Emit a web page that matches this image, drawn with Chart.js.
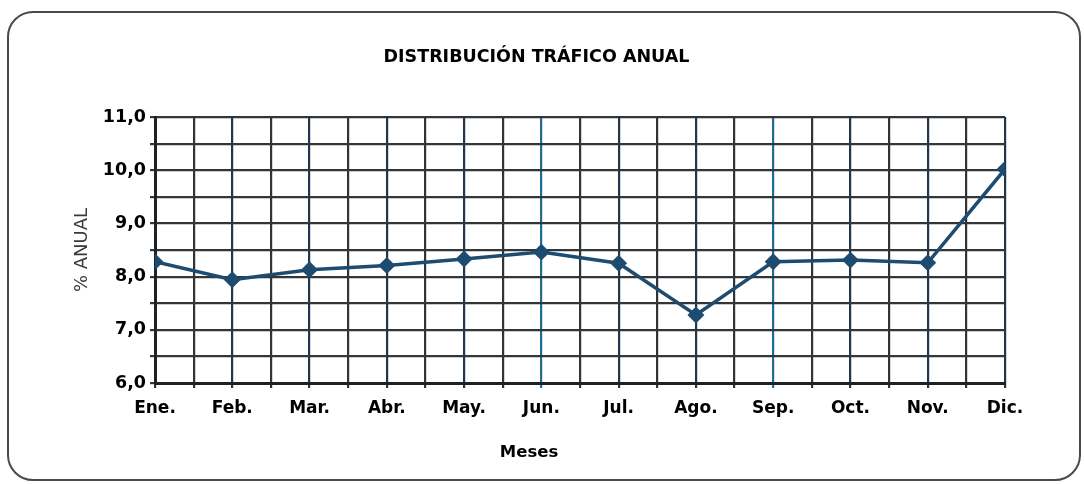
<!DOCTYPE html>
<html lang="es">
<head>
<meta charset="utf-8">
<title>Distribución tráfico anual</title>
<script src="https://cdn.jsdelivr.net/npm/chart.js@4.4.0/dist/chart.umd.min.js"></script>
<style>
  html, body { margin: 0; padding: 0; background: #fff; }
  #marco {
    position: absolute;
    left: 7px; top: 11px;
    width: 1070px; height: 466px;
    border: 2.5px solid #4a4a4a;
    border-radius: 26px;
  }
  #grafico { position: absolute; left: 0; top: 0; }
</style>
</head>
<body>
<div id="marco"></div>
<canvas id="grafico" width="1084" height="484"></canvas>
<script>
// Meses del año (eje X)
const meses = ['Ene.', 'Feb.', 'Mar.', 'Abr.', 'May.', 'Jun.', 'Jul.', 'Ago.', 'Sep.', 'Oct.', 'Nov.', 'Dic.'];

// Porcentaje del tráfico anual por mes
const porcentajeAnual = [8.28, 7.94, 8.13, 8.21, 8.33, 8.46, 8.25, 7.28, 8.28, 8.31, 8.26, 10.02];

// Rango del eje Y
const escalaY = [6, 11];

const fuente = "'DejaVu Sans', 'Liberation Sans', Arial, sans-serif";
const colorLinea = '#1e4b70';

// Título del eje X, algo desplazado a la izquierda del centro del área
const tituloEjeX = {
    id: 'tituloEjeX',
    afterDraw(chart) {
        const { ctx, chartArea } = chart;
        ctx.save();
        ctx.font = 'bold 16.5px ' + fuente;
        ctx.fillStyle = '#000';
        ctx.textAlign = 'center';
        ctx.textBaseline = 'middle';
        ctx.fillText('Meses', chartArea.left + chartArea.width * 0.44, chartArea.bottom + 70);
        ctx.restore();
    }
};

// Líneas verticales: meses en azul oscuro, Jun. y Sep. más azuladas
function colorVertical(ctx) {
    const v = ctx.tick ? ctx.tick.value : 0;
    if (v === 5 || v === 8) return '#1f6d8f';
    if (Number.isInteger(v)) return '#22364a';
    return '#313437';
}

new Chart(document.getElementById('grafico').getContext('2d'), {
    type: 'line',
    data: {
        datasets: [{
            data: porcentajeAnual.map((v, i) => ({ x: i, y: v })),
            borderColor: colorLinea,
            borderWidth: 3.5,
            pointStyle: 'rectRot',
            pointRadius: 6,
            pointBackgroundColor: colorLinea,
            pointBorderColor: colorLinea,
            tension: 0
        }]
    },
    options: {
        responsive: false,
        animation: false,
        layout: {
            padding: { left: 68, right: 79, top: 10, bottom: 20 }
        },
        scales: {
            x: {
                type: 'linear',
                min: 0,
                max: meses.length - 1,
                afterFit(scale) { scale.height = 81; },
                border: { color: '#1e2226', width: 3 },
                grid: {
                    color: colorVertical,
                    lineWidth: 2.2,
                    tickLength: 5
                },
                ticks: {
                    stepSize: 0.5,
                    autoSkip: false,
                    maxRotation: 0,
                    padding: 10,
                    color: '#000',
                    font: { family: fuente, size: 17, weight: 'bold' },
                    callback: (value) => Number.isInteger(value) ? meses[value] : ''
                }
            },
            y: {
                min: escalaY[0],
                max: escalaY[1],
                afterFit(scale) { scale.width = 87; },
                border: { color: '#1e2226', width: 3 },
                grid: {
                    color: '#333639',
                    lineWidth: 2.2,
                    tickLength: 5
                },
                title: {
                    display: true,
                    text: '% ANUAL',
                    color: '#3a3a3a',
                    padding: { top: 4, bottom: 0 },
                    font: { family: fuente, size: 18 }
                },
                ticks: {
                    stepSize: 0.5,
                    autoSkip: false,
                    padding: 4,
                    color: '#000',
                    font: { family: fuente, size: 17.5, weight: 'bold' },
                    callback: (value) => Number.isInteger(value) ? value.toFixed(1).replace('.', ',') : ''
                }
            }
        },
        plugins: {
            legend: { display: false },
            tooltip: { enabled: false },
            title: {
                display: true,
                text: 'DISTRIBUCIÓN TRÁFICO ANUAL',
                color: '#000',
                font: { family: fuente, size: 17.5, weight: 'bold' },
                padding: { top: 37, bottom: 49 }
            }
        }
    },
    plugins: [tituloEjeX]
});
</script>
</body>
</html>
